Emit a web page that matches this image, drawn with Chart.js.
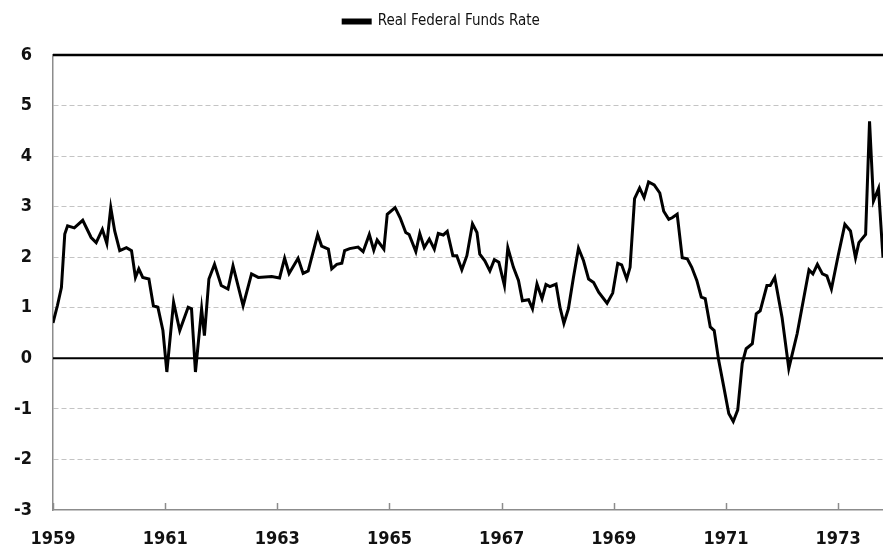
<!DOCTYPE html>
<html>
<head>
<meta charset="utf-8">
<script src="https://cdn.jsdelivr.net/npm/chart.js@4/dist/chart.umd.min.js"></script>
<style>
	html, body { margin: 0; padding: 0; background: #fff; }
	.wrap { width: 883px; height: 550px; }
</style>
</head>
<body>
<div class="wrap"><canvas id="rate-chart" width="883" height="550"></canvas></div>
<script>
var seriesName = 'Real Federal Funds Rate';

var years = [
	1959.00, 1959.08, 1959.15, 1959.21, 1959.26, 1959.38, 1959.53, 1959.68, 1959.77, 1959.88, 1959.96,
	1960.03, 1960.10, 1960.19, 1960.31, 1960.40, 1960.47, 1960.53, 1960.60, 1960.71, 1960.79, 1960.87, 1960.96,
	1961.03, 1961.15, 1961.26, 1961.41, 1961.47, 1961.54, 1961.65, 1961.70, 1961.78, 1961.88,
	1962.00, 1962.12, 1962.21, 1962.39, 1962.54, 1962.66, 1962.90,
	1963.04, 1963.13, 1963.21, 1963.37, 1963.46, 1963.55, 1963.72, 1963.79, 1963.91, 1963.97,
	1964.06, 1964.15, 1964.20, 1964.29, 1964.44, 1964.53, 1964.64, 1964.72, 1964.78, 1964.90, 1964.96,
	1965.10, 1965.19, 1965.29, 1965.35, 1965.47, 1965.54, 1965.62, 1965.71, 1965.80, 1965.87, 1965.96,
	1966.03, 1966.13, 1966.20, 1966.29, 1966.38, 1966.48, 1966.56, 1966.61, 1966.70, 1966.79, 1966.87, 1966.95,
	1967.05, 1967.11, 1967.21, 1967.30, 1967.37, 1967.48, 1967.55, 1967.63, 1967.72, 1967.79, 1967.86, 1967.97,
	1968.04, 1968.11, 1968.19, 1968.28, 1968.37, 1968.46, 1968.55, 1968.64, 1968.73, 1968.88, 1968.98,
	1969.07, 1969.14, 1969.23, 1969.29, 1969.37, 1969.46, 1969.54, 1969.62, 1969.72, 1969.82, 1969.89, 1969.98,
	1970.04, 1970.13, 1970.22, 1970.31, 1970.39, 1970.48, 1970.56, 1970.63, 1970.72, 1970.79, 1970.87, 1970.96,
	1971.05, 1971.13, 1971.21, 1971.29, 1971.36, 1971.47, 1971.54, 1971.61, 1971.73, 1971.79, 1971.87,
	1972.00, 1972.12, 1972.27, 1972.48, 1972.55, 1972.63, 1972.72, 1972.80, 1972.88,
	1973.00, 1973.12, 1973.22, 1973.31, 1973.37, 1973.49, 1973.56, 1973.63, 1973.72, 1973.80
];

var rate = [
	0.70, 1.05, 1.40, 2.46, 2.62, 2.58, 2.73, 2.39, 2.29, 2.55, 2.27,
	2.98, 2.52, 2.13, 2.19, 2.13, 1.60, 1.77, 1.60, 1.57, 1.04, 1.01, 0.55,
	-0.27, 1.11, 0.55, 1.01, 0.98, -0.27, 0.98, 0.45, 1.57, 1.86,
	1.44, 1.37, 1.83, 1.04, 1.67, 1.60, 1.62,
	1.59, 1.98, 1.68, 1.98, 1.68, 1.73, 2.45, 2.22, 2.16, 1.77,
	1.86, 1.88, 2.13, 2.17, 2.20, 2.11, 2.45, 2.14, 2.34, 2.16, 2.85,
	2.98, 2.78, 2.49, 2.45, 2.11, 2.47, 2.19, 2.36, 2.16, 2.47, 2.44,
	2.51, 2.03, 2.03, 1.75, 2.03, 2.66, 2.49, 2.06, 1.93, 1.73, 1.95, 1.90,
	1.44, 2.19, 1.80, 1.54, 1.14, 1.16, 0.98, 1.47, 1.18, 1.46, 1.42, 1.47,
	1.01, 0.69, 0.98, 1.60, 2.18, 1.93, 1.57, 1.50, 1.31, 1.09, 1.29,
	1.88, 1.85, 1.57, 1.80, 3.16, 3.37, 3.18, 3.49, 3.43, 3.27, 2.91, 2.75,
	2.78, 2.85, 1.99, 1.97, 1.80, 1.54, 1.21, 1.18, 0.62, 0.55, -0.04, -0.56,
	-1.09, -1.25, -1.02, -0.10, 0.19, 0.29, 0.88, 0.94, 1.44, 1.44, 1.60,
	0.81, -0.20, 0.49, 1.75, 1.67, 1.86, 1.67, 1.63, 1.37,
	2.03, 2.65, 2.52, 1.99, 2.29, 2.45, 4.69, 3.11, 3.36, 1.99
];

var xTicks = [1959, 1961, 1963, 1965, 1967, 1969, 1971, 1973];
var yMin = -3, yMax = 6;

var points = [];
for (var i = 0; i < years.length; i++) {
	points.push({ x: years[i], y: rate[i] });
}

var labelFont = { family: "'DejaVu Sans Condensed', 'DejaVu Sans', sans-serif", size: 18, weight: 'bold' };

// extra room under the legend
var legendGap = {
	id: 'legendGap',
	beforeInit: function(chart) {
		var fit = chart.legend.fit;
		chart.legend.fit = function() {
			fit.bind(chart.legend)();
			this.height += 16;
		};
	}
};

// solid lines at 0 and at the top, plus the small inside tick marks
var axisExtras = {
	id: 'axisExtras',
	afterDraw: function(chart) {
		var ctx = chart.ctx;
		var area = chart.chartArea;
		var xs = chart.scales.x, ys = chart.scales.y;
		ctx.save();
		ctx.strokeStyle = '#8c8c8c';
		ctx.lineWidth = 1.5;
		xs.ticks.forEach(function(t) {
			var px = Math.round(xs.getPixelForValue(t.value)) + 0.5;
			ctx.beginPath();
			ctx.moveTo(px, area.bottom);
			ctx.lineTo(px, area.bottom - 7);
			ctx.stroke();
		});
		ctx.strokeStyle = '#000';
		ctx.lineWidth = 2;
		var y0 = ys.getPixelForValue(0);
		ctx.beginPath();
		ctx.moveTo(area.left, y0);
		ctx.lineTo(area.right, y0);
		ctx.stroke();
		ctx.lineWidth = 2.5;
		var yTop = ys.getPixelForValue(yMax);
		ctx.beginPath();
		ctx.moveTo(area.left, yTop);
		ctx.lineTo(area.right, yTop);
		ctx.stroke();
		ctx.restore();
	}
};

var config_line = {
	type: 'line',
	data: {
		datasets: [{
			label: seriesName,
			data: points,
			borderColor: '#000',
			backgroundColor: '#000',
			borderWidth: 3,
			pointRadius: 0,
			tension: 0,
			fill: false
		}]
	},
	options: {
		responsive: false,
		animation: false,
		layout: { padding: { left: 0, right: 0, top: 4, bottom: 0 } },
		plugins: {
			tooltip: { enabled: false },
			legend: {
				position: 'top',
				labels: {
					boxWidth: 27,
					boxHeight: 3,
					padding: 10,
					color: '#111',
					font: { family: "'DejaVu Sans Condensed', 'DejaVu Sans', sans-serif", size: 15 }
				}
			}
		},
		scales: {
			x: {
				type: 'linear',
				min: 1959,
				max: 1973.8,
				afterBuildTicks: function(scale) {
					scale.ticks = xTicks.map(function(v) { return { value: v }; });
				},
				afterFit: function(scale) {
					scale.height = 40;
				},
				ticks: {
					color: '#111',
					font: labelFont,
					padding: 19,
					maxRotation: 0,
					autoSkip: false,
					callback: function(v) { return String(v); }
				},
				grid: { display: false, drawTicks: false },
				border: { display: true, color: '#8c8c8c', width: 1.5 }
			},
			y: {
				min: yMin,
				max: yMax,
				afterFit: function(scale) {
					scale.width = 53;
				},
				ticks: {
					stepSize: 1,
					color: '#111',
					font: labelFont,
					padding: 21,
					callback: function(v) { return String(v); }
				},
				grid: {
					drawTicks: false,
					color: function(c) {
						var v = c.tick ? c.tick.value : null;
						if (v === 0 || v === yMax || v === yMin) return 'rgba(0,0,0,0)';
						return '#c4c4c4';
					},
					lineWidth: 1
				},
				border: { display: true, color: '#8c8c8c', width: 1.5, dash: [5, 3] }
			}
		}
	},
	plugins: [legendGap, axisExtras]
};

window.onload = function() {
	var ctx = document.getElementById('rate-chart').getContext('2d');
	window.rateChart = new Chart(ctx, config_line);
};
</script>
</body>
</html>
